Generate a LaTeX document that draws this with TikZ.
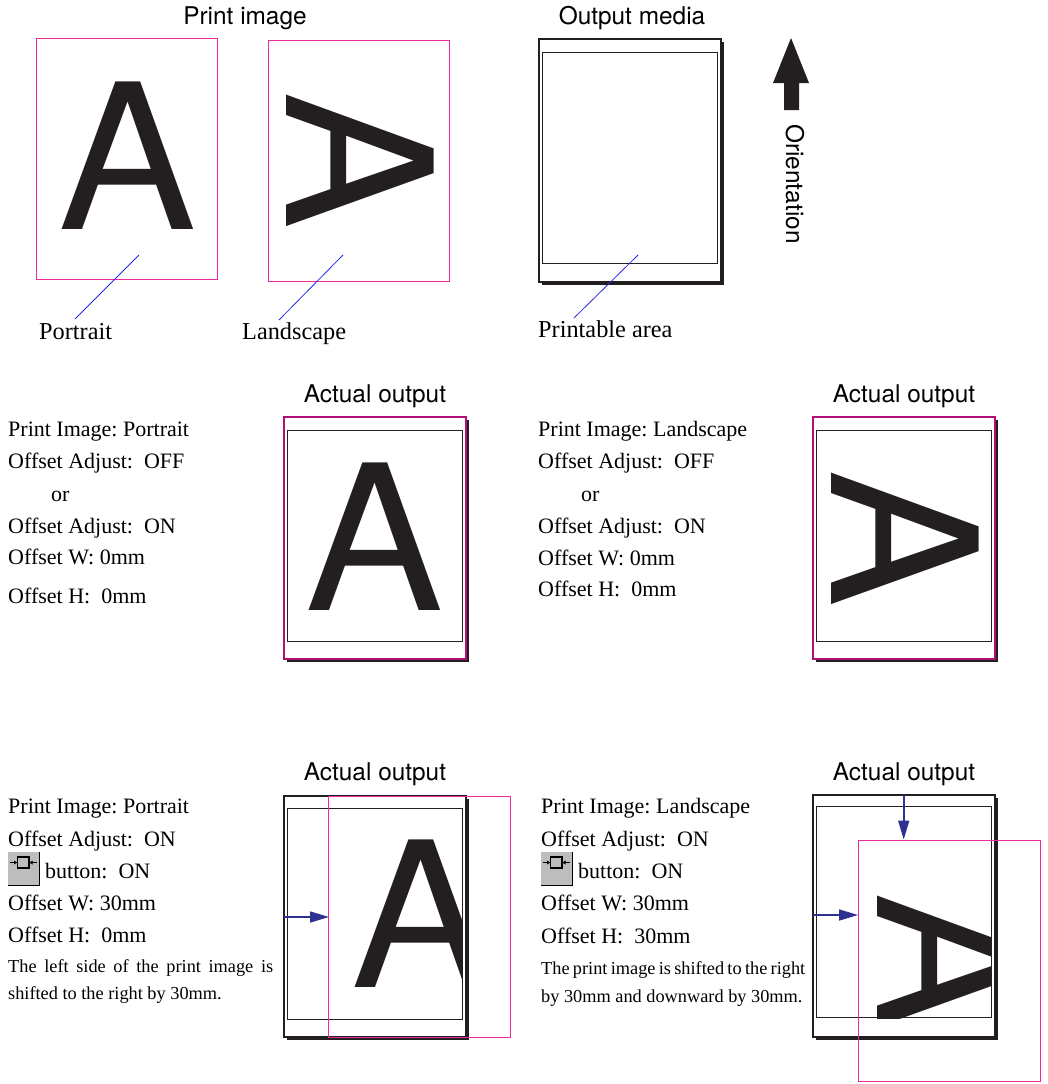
\documentclass[tikz,border=0pt]{standalone}
\usepackage{graphicx}
\usepackage{fontspec}
\setmainfont{Liberation Serif}
\newfontfamily\headfont{TeX Gyre Heros}
\usetikzlibrary{arrows.meta}
\definecolor{inkblack}{HTML}{231F20}
\definecolor{printpink}{HTML}{EC2A9B}
\definecolor{overlaypink}{HTML}{B01075}
\definecolor{leaderblue}{HTML}{2A2AE8}
\definecolor{shiftblue}{HTML}{2E3192}
\definecolor{buttongray}{HTML}{BDBDBD}
\newcommand{\bigA}{\scalebox{1.022}[1]{\headfont\fontsize{202.5}{205}\selectfont A}}
\frenchspacing
\tikzset{
  heading/.style={inner sep=0pt,anchor=base,font=\headfont\fontsize{24.4}{24.4}\selectfont,text=black},
  bodytext/.style={inner sep=0pt,anchor=base west,font=\fontsize{22}{22}\selectfont\frenchspacing,text=black},
  labeltext/.style={inner sep=0pt,anchor=base west,font=\fontsize{24.3}{24.3}\selectfont\frenchspacing,text=black},
  notetext/.style={inner sep=0pt,anchor=base west,font=\fontsize{18.3}{18.3}\selectfont\frenchspacing,text=black},
  bigletter/.style={inner sep=0pt,anchor=base,text=inkblack},
  printrect/.style={draw=printpink,line width=1pt},
  overlayrect/.style={draw=overlaypink,line width=1.2pt},
  leader/.style={draw=leaderblue,line width=0.8pt},
  shiftarrow/.style={draw=shiftblue,line width=1.6pt,-{Triangle[length=19pt,width=11pt,fill=shiftblue]}},
  mediashadow/.style={fill=inkblack,draw=none},
  mediabox/.style={fill=white,draw=inkblack,line width=1.8pt},
  areabox/.style={draw=inkblack,line width=0.8pt},
}
\newcommand{\mediaframe}[4]{%
  \fill[mediashadow] (#1+3,#2+3) rectangle (#1+185,#4+3);
  \draw[mediabox] (#1,#2) rectangle (#1+182,#4);
  \draw[areabox] (#1+3.5,#3) rectangle (#1+178.5,#3+211.5);
}
\newcommand{\offsetbutton}[2]{%
  \fill[buttongray] (#1,#2) rectangle (#1+31,#2+33);
  \draw[black,line width=1pt] (#1,#2+33) -- (#1+31,#2+33) -- (#1+31,#2);
  \draw[black,line width=1.6pt] (#1+9.5,#2+5) rectangle (#1+21,#2+16);
  \draw[black,line width=0.7pt] (#1+2,#2+10.5) -- (#1+9,#2+10.5) (#1+21.5,#2+10.5) -- (#1+29,#2+10.5);
  \fill[black] (#1+9,#2+10.5) -- (#1+6,#2+8.5) -- (#1+6,#2+12.5) -- cycle;
  \fill[black] (#1+21.5,#2+10.5) -- (#1+24.5,#2+8.5) -- (#1+24.5,#2+12.5) -- cycle;
}
\begin{document}
\begin{tikzpicture}[x=1pt,y=-1pt]
\useasboundingbox (0,0) rectangle (1047,1084);
\fill[white] (0,0) rectangle (1047,1084);

% Row 1
\node[heading] (titleprint) at (245,24) {Print image};
\node[heading] (titlemedia) at (632,24) {Output media};
\node[bigletter] (aportrait) at (127.3,229) {\bigA};
\draw[printrect] (36,38) rectangle (217,279);
\node[bigletter,rotate=-90] (alandscape) at (286.7,160.8) {\bigA};
\draw[printrect] (268,40) rectangle (449,281);
\mediaframe{539}{39}{52}{282}
\node[labeltext] (lblportrait) at (39,339) {Portrait};
\node[labeltext] (lbllandscape) at (242,339) {Landscape};
\node[labeltext] (lblprintable) at (538,337) {Printable area};
\coordinate (p1a) at (75,319); \coordinate (p1b) at (139,255);
\coordinate (p2a) at (279,320); \coordinate (p2b) at (343,255);
\coordinate (p3a) at (574,318); \coordinate (p3b) at (638,255);
\draw[leader] (p1a) -- (p1b);
\draw[leader] (p2a) -- (p2b);
\draw[leader] (p3a) -- (p3b);
\fill[inkblack] (791,38) -- (809,83) -- (799,83) -- (799,110) -- (784,110) -- (784,83) -- (773,83) -- cycle;
\node[heading,anchor=center,rotate=-90] (lblorient) at (795,184) {Orientation};

% Row 2 left
\node[heading] (titleact1) at (375,402) {Actual output};
\mediaframe{284}{417}{430}{659}
\node[bigletter] (a1) at (375,610) {\bigA};
\draw[overlayrect] (284,417) rectangle (466,659);
\node[bodytext] (t11) at (8,436) {Print Image: Portrait};
\node[bodytext] (t12) at (8,468) {Offset Adjust:\ \ OFF};
\node[bodytext] (t13) at (51,501) {or};
\node[bodytext] (t14) at (8,533) {Offset Adjust:\ \ ON};
\node[bodytext] (t15) at (8,564) {Offset W: 0mm};
\node[bodytext] (t16) at (8,603) {Offset H:\ \ 0mm};

% Row 2 right
\node[heading] (titleact2) at (904,402) {Actual output};
\mediaframe{813}{417}{430}{659}
\node[bigletter,rotate=-90] (a2) at (831,538.7) {\bigA};
\draw[overlayrect] (813,417) rectangle (995,659);
\node[bodytext] (t21) at (538,436) {Print Image: Landscape};
\node[bodytext] (t22) at (538,468) {Offset Adjust:\ \ OFF};
\node[bodytext] (t23) at (581,501) {or};
\node[bodytext] (t24) at (538,533) {Offset Adjust:\ \ ON};
\node[bodytext] (t25) at (538,565) {Offset W: 0mm};
\node[bodytext] (t26) at (538,596) {Offset H:\ \ 0mm};

% Row 3 left
\node[heading] (titleact3) at (375,780) {Actual output};
\mediaframe{284}{796}{808}{1037}
\begin{scope}
  \clip (287.5,808) rectangle (462,1019);
  \node[bigletter] (a3) at (421,987) {\bigA};
\end{scope}
\draw[printrect] (328.6,796) rectangle (510,1037);
\coordinate (s1a) at (284,917); \coordinate (s1b) at (329,917);
\draw[shiftarrow] (s1a) -- (s1b);
\node[bodytext] (t31) at (8,813) {Print Image: Portrait};
\node[bodytext] (t32) at (8,846) {Offset Adjust:\ \ ON};
\offsetbutton{8}{852}
\node[bodytext] (t33) at (45,878) {button:\ \ ON};
\node[bodytext] (t34) at (8,910) {Offset W: 30mm};
\node[bodytext] (t35) at (8,942) {Offset H:\ \ 0mm};
\node[notetext] (t36) at (8,972) {\makebox[265pt][s]{The left side of the print image is}};
\node[notetext] (t37) at (8,999) {shifted to the right by 30mm.};

% Row 3 right
\node[heading] (titleact4) at (904,780) {Actual output};
\mediaframe{813}{795}{806}{1037}
\begin{scope}
  \clip (816.5,806) rectangle (991.5,1018);
  \node[bigletter,rotate=-90] (a4) at (877,962) {\bigA};
\end{scope}
\draw[printrect] (858.4,840) rectangle (1040,1081);
\coordinate (s2a) at (813,915); \coordinate (s2b) at (858,915);
\coordinate (s3a) at (903.7,795); \coordinate (s3b) at (903.7,839.5);
\draw[shiftarrow] (s2a) -- (s2b);
\draw[shiftarrow] (s3a) -- (s3b);
\node[bodytext] (t41) at (541,813) {Print Image: Landscape};
\node[bodytext] (t42) at (541,846) {Offset Adjust:\ \ ON};
\offsetbutton{541}{852}
\node[bodytext] (t43) at (578,878) {button:\ \ ON};
\node[bodytext] (t44) at (541,910) {Offset W: 30mm};
\node[bodytext] (t45) at (541,943) {Offset H:\ \ 30mm};
\node[notetext] (t46) at (541,974) {\makebox[264pt][s]{The print image is shifted to the right}};
\node[notetext] (t47) at (541,1002) {by 30mm and downward by 30mm.};
\end{tikzpicture}
\end{document}
